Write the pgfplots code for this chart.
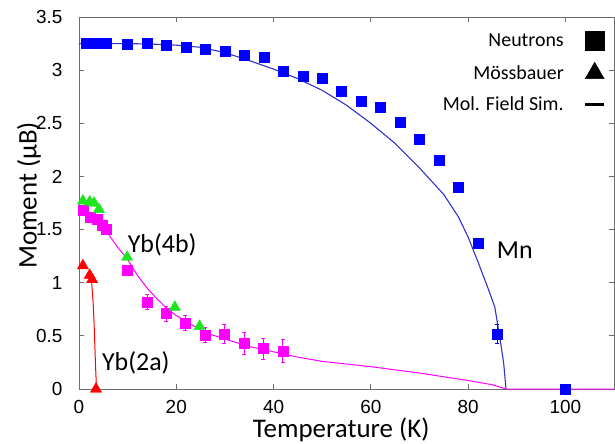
\documentclass[border=0pt]{standalone}
\usepackage{fontspec}
\setmainfont{Liberation Sans}
\newfontfamily\carlito{Carlito}
\usepackage{pgfplots}
\pgfplotsset{compat=1.18}
\definecolor{mnsq}{RGB}{0,0,255}
\definecolor{mnline}{RGB}{50,50,205}
\definecolor{ybmag}{RGB}{255,0,255}
\definecolor{ybgreen}{RGB}{30,230,30}
\definecolor{ybred}{RGB}{255,0,0}
\definecolor{axgray}{RGB}{110,110,110}
\pgfplotsset{
  dashlegend/.style={legend image code/.code={\path[draw=none,fill=none] (0cm,-0.3cm) rectangle (1.4cm,0.3cm); \draw[##1] (0.69cm,0cm) -- (1.36cm,0cm);}},
  marklegend/.style={legend image code/.code={\path[draw=none,fill=none] (0cm,-0.3cm) rectangle (1.4cm,0.3cm); \draw[##1] plot coordinates {(1.02cm,0cm)};}},
}

\pgfplotstableread{
T M
0 3.25
10 3.25
15 3.245
20 3.235
25 3.215
30 3.165
35 3.09
40 3.01
45 2.92
50 2.81
55 2.67
60 2.50
65 2.31
70 2.08
75 1.83
78 1.62
80 1.43
82 1.20
84 0.96
85.5 0.77
86.6 0.46
87.3 0.25
87.8 0
}\mnline

\pgfplotstableread{
T M
1.5 3.25
2.5 3.25
3.5 3.25
4.5 3.25
5.5 3.25
10 3.24
14 3.25
18 3.23
22 3.22
26 3.20
30 3.18
34 3.14
38 3.12
42 2.99
46 2.94
50 2.92
54 2.80
58 2.71
62 2.65
66 2.51
70 2.35
74 2.15
78 1.90
82 1.37
100 0
}\mndata

\pgfplotstableread{
T M
0.8 1.69
1.5 1.66
3 1.62
4.5 1.55
6 1.46
8 1.33
10 1.22
12 1.07
14 0.95
16 0.85
18 0.76
20 0.69
23 0.61
26 0.53
30 0.47
35 0.40
40 0.35
45 0.30
50 0.26
60 0.21
70 0.15
80 0.08
85 0.04
87.8 0
110 0
}\ybline

\pgfplotstableread{
T M E
0.8 1.68 0.03
2.4 1.62 0.03
3.7 1.60 0.03
4.8 1.54 0.03
5.5 1.50 0.03
9.9 1.12 0.04
14 0.82 0.07
17.9 0.71 0.07
21.8 0.62 0.07
25.9 0.51 0.07
29.8 0.52 0.09
33.9 0.43 0.10
37.8 0.38 0.10
41.9 0.36 0.11
}\ybfour

\pgfplotstableread{
T M
0.8 1.77
2.2 1.76
3.1 1.75
4.1 1.69
9.9 1.24
19.7 0.77
24.8 0.59
}\ybgr

\pgfplotstableread{
T M
0.8 1.16
2.2 1.07
2.7 1.03
3.5 0
}\ybtwo

\pgfplotstableread{
T M
2.2 1.09
2.6 1.00
2.9 0.82
3.1 0.62
3.25 0.42
3.4 0.22
3.6 0
}\ybtwoline

\begin{document}
\begin{tikzpicture}
\begin{axis}[
  scale only axis, width=535bp, height=372bp,
  xmin=0, xmax=110, ymin=0, ymax=3.5,
  xtick={0,20,...,100}, ytick={0,0.5,...,3.5},
  tick align=inside, major tick length=5bp,
  axis line style={axgray, line width=0.8bp},
  every tick/.style={axgray, line width=0.8bp},
  tick label style={font=\fontsize{19}{22}\selectfont},
  /pgf/number format/assume math mode=true,
  xticklabel style={yshift=-8bp},
  yticklabel style={xshift=-13bp},
  xlabel={Temperature (K)},
  ylabel={Moment (\textmu B)},
  label style={font=\carlito\fontsize{27}{31}\selectfont},
  xlabel style={at={(axis description cs:0.49,0)}, anchor=base, yshift=-48bp},
  ylabel style={at={(axis description cs:-0.0935,0.52)}, anchor=center},
  clip=false,
  legend style={draw=none, fill=none, at={(rel axis cs:1,1)}, anchor=north east,
    font=\carlito\fontsize{20}{24}\selectfont, row sep=12bp, xshift=-5bp, yshift=-12bp},
  legend cell align=right, legend plot pos=right,
]
\addplot[mnline, line width=1.1bp, forget plot] table[x=T,y=M] {\mnline};
\addplot[ybmag, line width=1bp, forget plot] table[x=T,y=M] {\ybline};
\addplot[ybred, line width=1bp, forget plot] table[x=T,y=M] {\ybtwoline};
\addplot[only marks, mark=square*, mark size=5bp, mnsq, forget plot] table[x=T,y=M] {\mndata};
\addplot[only marks, mark=square*, mark size=5bp, mnsq, forget plot,
  error bars/.cd, y dir=both, y explicit, error bar style={mnsq, line width=0.6bp},
  error mark options={mnsq, rotate=90, mark size=2bp}] coordinates {(86,0.52) +- (0,0.09)};
\addplot[only marks, mark=square*, mark size=5bp, ybmag, forget plot,
  error bars/.cd, y dir=both, y explicit, error bar style={ybmag, line width=0.6bp},
  error mark options={ybmag, rotate=90, mark size=2bp}] table[x=T,y=M,y error=E] {\ybfour};
\addplot[only marks, mark=triangle*, mark size=6.5bp, ybgreen, forget plot] table[x=T,y=M] {\ybgr};
\addplot[only marks, mark=triangle*, mark size=6.5bp, ybred, forget plot] table[x=T,y=M] {\ybtwo};

\node[anchor=west, inner sep=0, font=\carlito\fontsize{26}{30}\selectfont] at (axis cs:10,1.355) {Yb(4b)};
\node[anchor=west, inner sep=0, font=\carlito\fontsize{26}{30}\selectfont] at (axis cs:4.7,0.245) {Yb(2a)};
\node[anchor=west, inner sep=0, font=\carlito\fontsize{26}{30}\selectfont] at (axis cs:85.9,1.31) {Mn};

\addlegendimage{only marks, mark=square*, mark size=9.5bp, black, marklegend}
\addlegendentry{Neutrons}
\addlegendimage{only marks, mark=triangle*, mark size=11bp, black, marklegend}
\addlegendentry{Mössbauer}
\addlegendimage{black, line width=3bp, dashlegend}
\addlegendentry{Mol. Field Sim.}
\end{axis}
\pgfresetboundingbox
\path[use as bounding box] ([shift={(-79bp,-55bp)}]current axis.south west) rectangle ([shift={(1bp,17bp)}]current axis.north east);
\end{tikzpicture}
\end{document}
